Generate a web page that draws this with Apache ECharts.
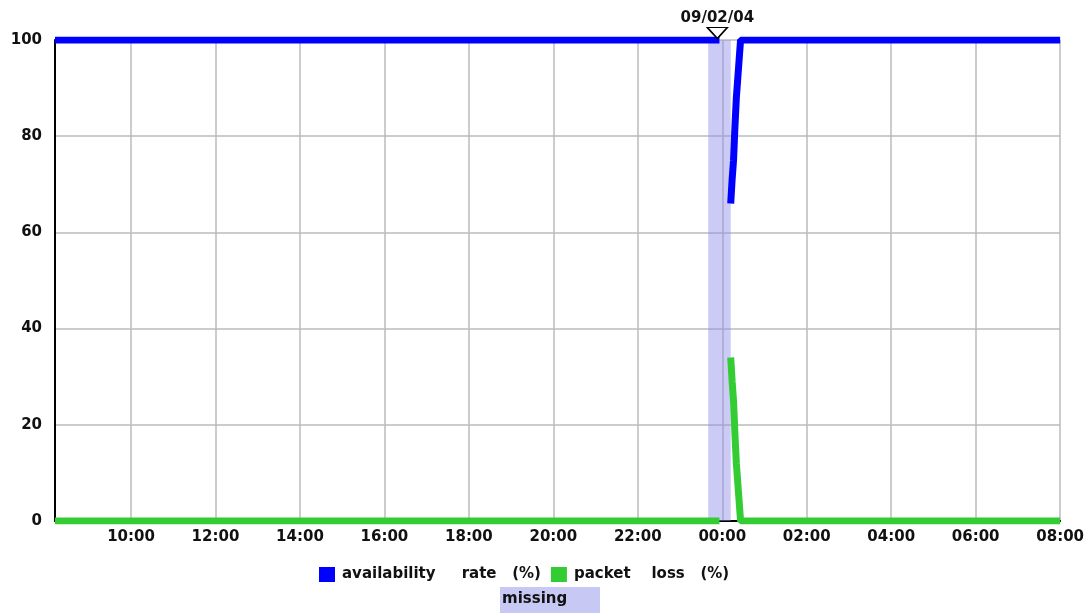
<!DOCTYPE html>
<html>
<head>
<meta charset="utf-8">
<script src="https://cdn.jsdelivr.net/npm/echarts@6/dist/echarts.min.js"></script>
<style>
  html, body { margin: 0; padding: 0; background: #fff; }
  #main { width: 1087px; height: 613px; }
</style>
</head>
<body>
<div id="main"></div>
<script>
// sample times (clock), null value = no data
const times = ["08:12", "23:40", "23:56", "00:12", "00:14", "00:16", "00:18", "00:20", "00:22", "00:24", "00:26", "08:00"];
const availability = [100, 100, null, 66, 71, 75, 82, 88, 92, 96, 100, 100];
const packetLoss = [0, 0, null, 34, 29, 25, 18, 12, 8, 4, 0, 0];
const missing = ["23:40", "00:12"];
const xTicks = ["10:00", "12:00", "14:00", "16:00", "18:00", "20:00", "22:00", "00:00", "02:00", "04:00", "06:00", "08:00"];
const dayMark = { time: "23:53", label: "09/02/04" };

const FONT = "DejaVu Sans, Verdana, sans-serif";
const availName = "availability     rate   (%)";
const lossName = "packet    loss   (%)";

// minutes since 08:00 of the first day
function toMin(t) {
  const [h, m] = t.split(":").map(Number);
  if (t === "08:00") return 1440;
  let v = (h - 8) * 60 + m;
  if (v <= 0) v += 1440;
  return v;
}
function fmt(v) {
  const h = (Math.floor(v / 60) + 8) % 24;
  return (h < 10 ? "0" : "") + h + ":00";
}
const xs = times.map(toMin);
const availData = xs.map((x, i) => [x, availability[i]]);
const lossData = xs.map((x, i) => [x, packetLoss[i]]);
const tickVals = xTicks.map(toMin);

const chart = echarts.init(document.getElementById("main"));
chart.setOption({
  animation: false,
  grid: { left: 55, right: 26, top: 40, bottom: 92 },
  xAxis: {
    type: "value",
    min: toMin("08:12"),
    max: 1440,
    axisLine: { show: true, lineStyle: { color: "#000", width: 2 } },
    axisTick: { show: false, customValues: tickVals },
    axisLabel: {
      customValues: tickVals,
      formatter: fmt,
      color: "#111",
      fontFamily: FONT,
      fontWeight: "bold",
      fontSize: 15,
      margin: 9
    },
    splitLine: { show: true, lineStyle: { color: "#bbb", width: 1.5 } }
  },
  yAxis: {
    type: "value",
    min: 0,
    max: 100,
    interval: 20,
    axisLine: { show: true, lineStyle: { color: "#000", width: 2 } },
    axisTick: { show: false },
    axisLabel: {
      color: "#111",
      fontFamily: FONT,
      fontWeight: "bold",
      fontSize: 15,
      margin: 13
    },
    splitLine: { show: true, lineStyle: { color: "#bbb", width: 1.5 } }
  },
  legend: {
    left: 314,
    top: 562,
    icon: "rect",
    itemWidth: 16,
    itemHeight: 15,
    itemGap: 10,
    textStyle: { color: "#111", fontFamily: FONT, fontWeight: "bold", fontSize: 15, padding: [0, 0, 0, 2] },
    data: [availName, lossName]
  },
  graphic: [
    {
      type: "group",
      left: 500,
      top: 587,
      children: [
        { type: "rect", shape: { x: 0, y: 0, width: 100, height: 26 }, style: { fill: "#c8c8f4" } },
        { type: "text", x: 2, y: 5, style: { text: "missing", fill: "#111", font: "bold 15px " + FONT } }
      ]
    }
  ],
  series: [
    {
      name: availName,
      type: "line",
      step: "end",
      data: availData,
      showSymbol: false,
      connectNulls: false,
      color: "#0000ff",
      lineStyle: { color: "#0000ff", width: 7 },
      z: 3,
      markArea: {
        silent: true,
        itemStyle: { color: "rgba(140,140,235,0.45)" },
        data: [[{ xAxis: toMin(missing[0]) }, { xAxis: toMin(missing[1]) }]]
      },
      markPoint: {
        silent: true,
        symbol: "triangle",
        symbolRotate: 180,
        symbolSize: [20, 11],
        symbolOffset: [0, -7],
        itemStyle: { color: "#fff", borderColor: "#000", borderWidth: 1.5 },
        label: {
          show: true,
          position: "top",
          distance: 1,
          formatter: dayMark.label,
          color: "#111",
          fontFamily: FONT,
          fontWeight: "bold",
          fontSize: 15
        },
        data: [{ coord: [toMin(dayMark.time), 100] }]
      }
    },
    {
      name: lossName,
      type: "line",
      step: "end",
      data: lossData,
      showSymbol: false,
      connectNulls: false,
      color: "#33cc33",
      lineStyle: { color: "#33cc33", width: 7 },
      z: 3
    }
  ]
});
window.onresize = function() {
  chart.resize();
};
</script>
</body>
</html>
